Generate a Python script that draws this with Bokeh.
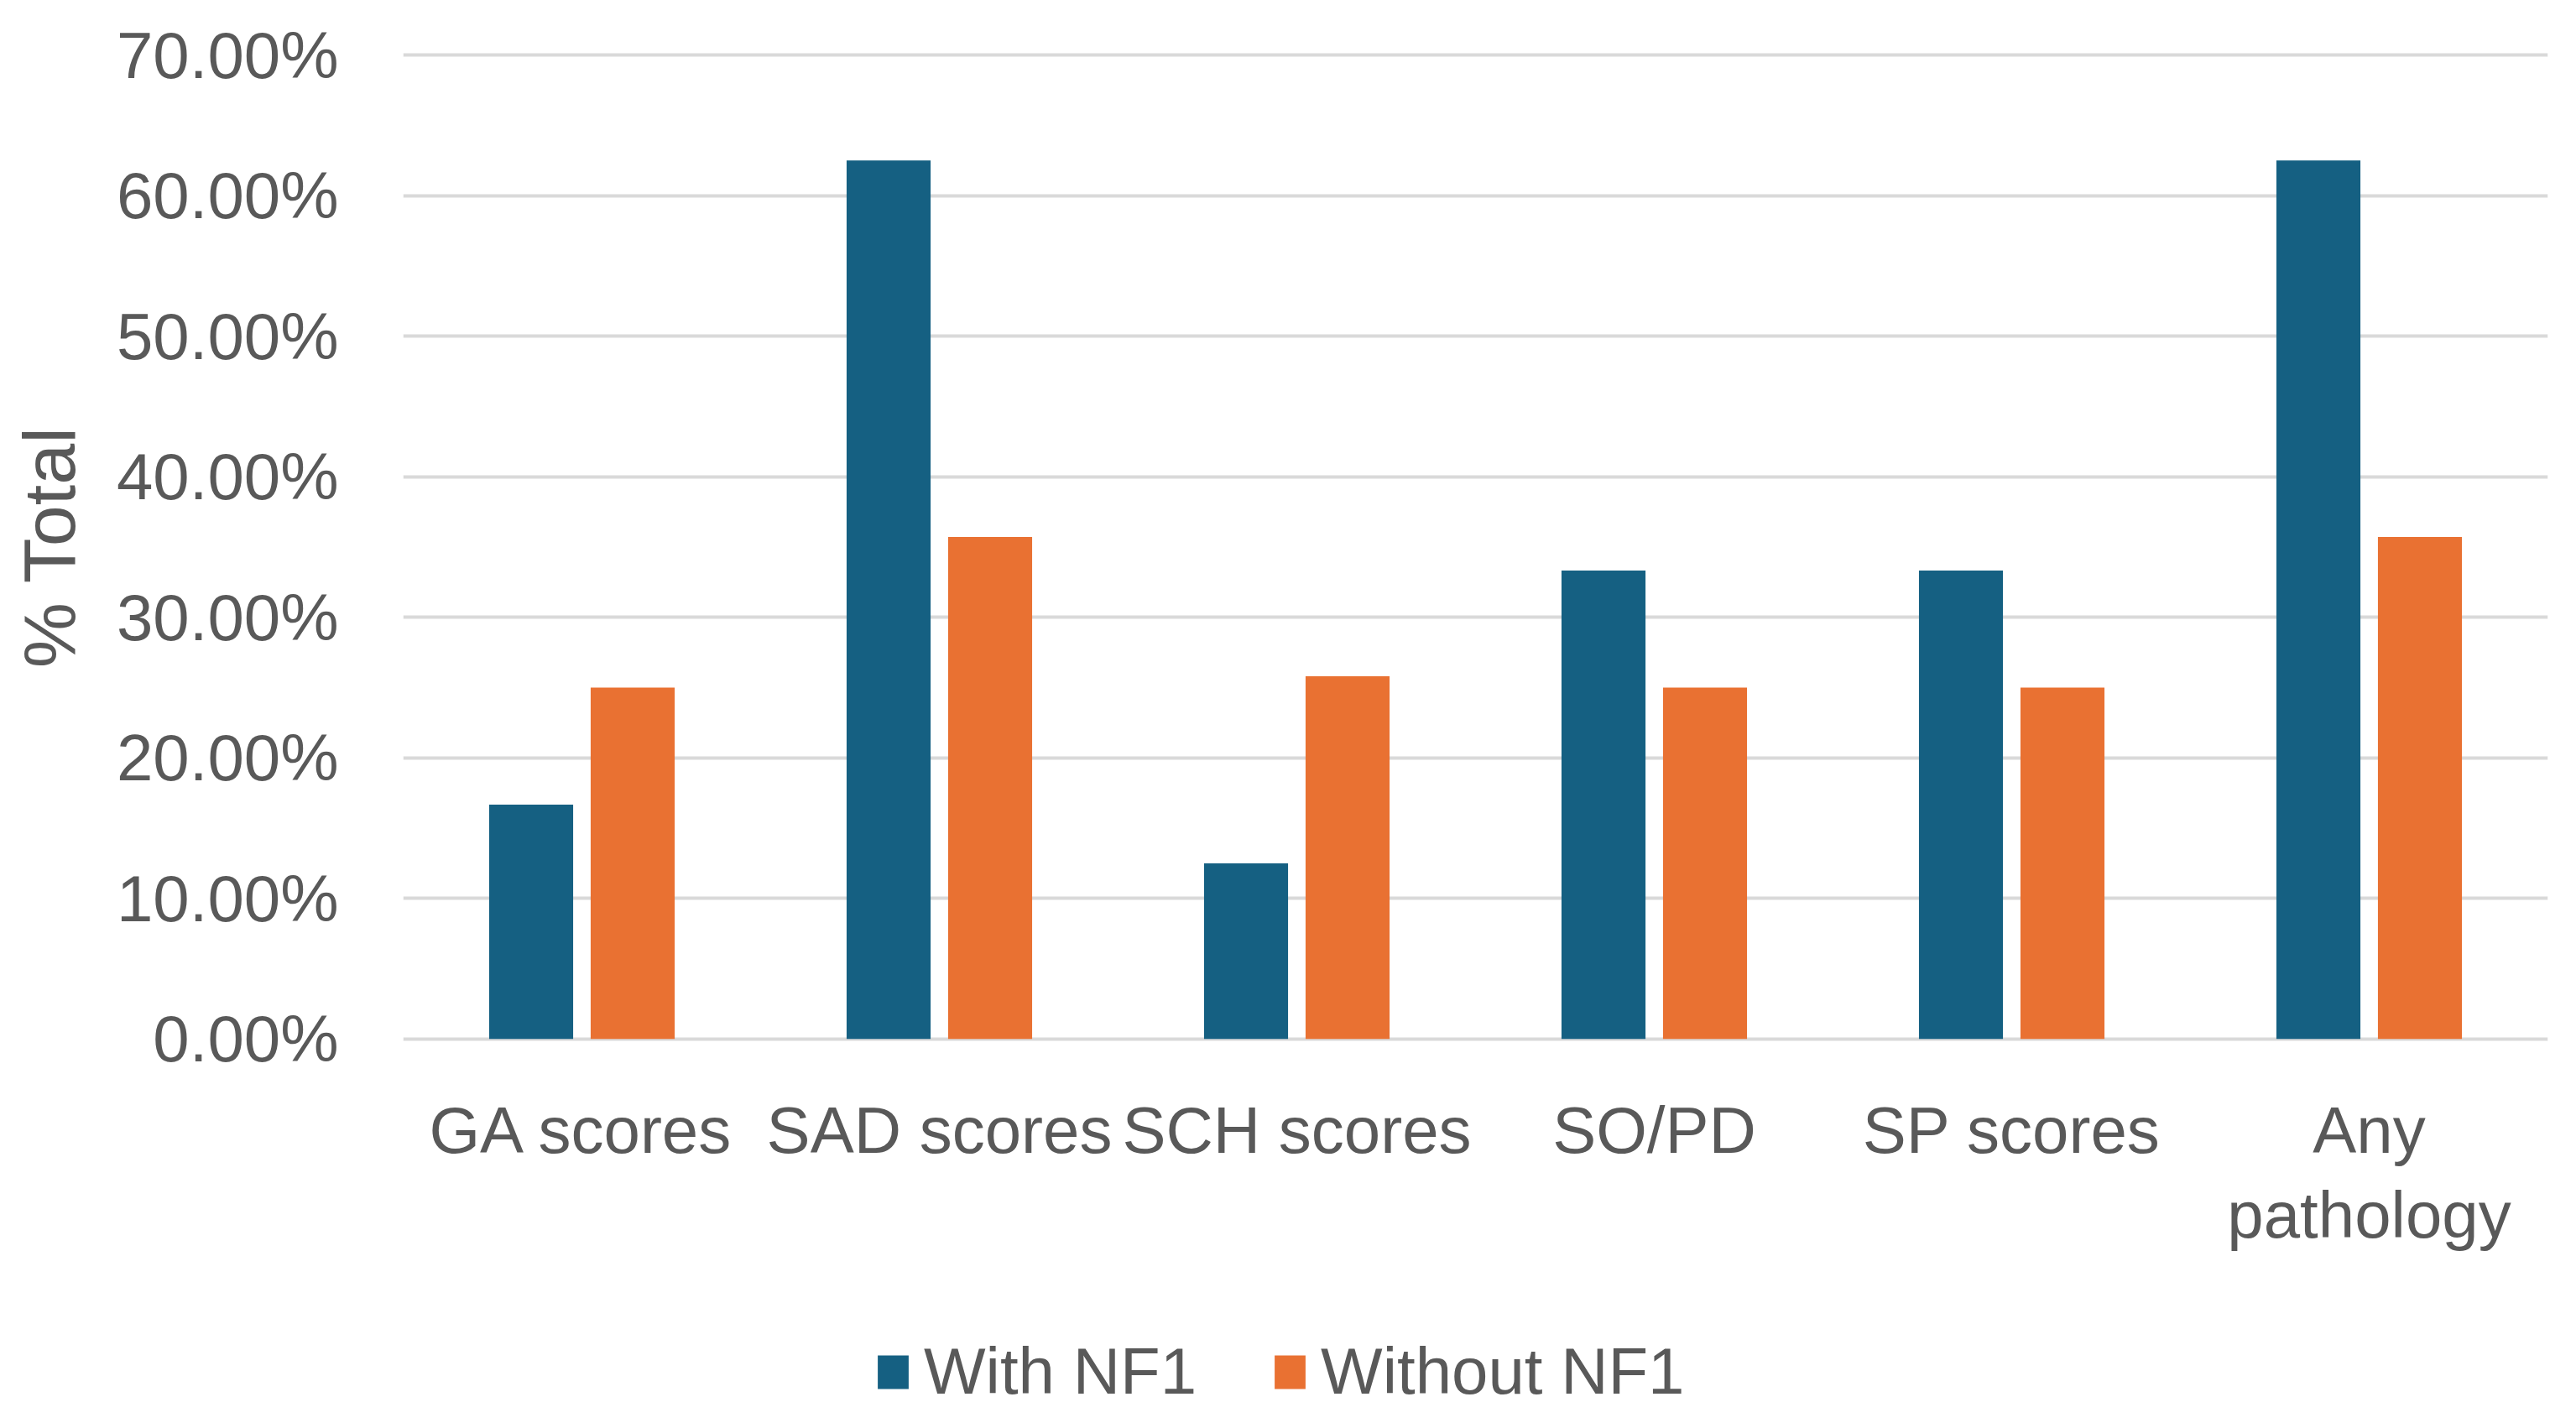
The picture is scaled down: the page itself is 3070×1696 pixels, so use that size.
from bokeh.plotting import figure
from bokeh.layouts import column
from bokeh.models import (ColumnDataSource, FactorRange, Range1d, FixedTicker,
                          NumeralTickFormatter, Legend, LegendItem)
from bokeh.core.properties import value
from bokeh.transform import dodge
from bokeh.embed import file_html
from bokeh.resources import INLINE

categories = ["GA scores", "SAD scores", "SCH scores", "SO/PD", "SP scores", "Any pathology"]
category_labels = ["GA scores", "SAD scores", "SCH scores", "SO/PD", "SP scores", "Any\npathology"]
with_nf1 = [0.1667, 0.625, 0.125, 0.3333, 0.3333, 0.625]
without_nf1 = [0.25, 0.3571, 0.2581, 0.25, 0.25, 0.3571]
series_names = ["With NF1", "Without NF1"]
y_ticks = [0.0, 0.1, 0.2, 0.3, 0.4, 0.5, 0.6, 0.7]

BLUE = "#156082"
ORANGE = "#E97132"
TEXT = "#595959"
GRID = "#D9D9D9"
FONT = "Liberation Sans"
FS = "78px"

W = 3054
source = ColumnDataSource(dict(cat=categories, a=with_nf1, b=without_nf1))
xr = FactorRange(*categories, range_padding=0)

# ---- main chart ----
p = figure(width=W, height=1286, output_backend="svg", toolbar_location=None,
           x_range=xr, y_range=Range1d(-0.0025, 0.7025), x_axis_location=None,
           min_border_left=480, min_border_right=18, min_border_top=61,
           min_border_bottom=44)
p.outline_line_color = None

r1 = p.vbar(x=dodge("cat", -0.142, range=xr), top="a", width=0.235,
            source=source, fill_color=BLUE, line_color=None)
r2 = p.vbar(x=dodge("cat", 0.142, range=xr), top="b", width=0.235,
            source=source, fill_color=ORANGE, line_color=None)

p.yaxis.ticker = FixedTicker(ticks=y_ticks)
p.yaxis.formatter = NumeralTickFormatter(format="0.00%")
p.yaxis.axis_line_color = None
p.yaxis.major_tick_line_color = None
p.yaxis.minor_tick_line_color = None
p.yaxis.major_tick_out = 0
p.yaxis.major_label_standoff = 77
p.yaxis.major_label_text_font = FONT
p.yaxis.major_label_text_font_size = FS
p.yaxis.major_label_text_color = TEXT
p.yaxis.axis_label = "% Total"
p.yaxis.axis_label_text_font = FONT
p.yaxis.axis_label_text_font_size = "88px"
p.yaxis.axis_label_text_font_style = "normal"
p.yaxis.axis_label_text_color = TEXT
p.yaxis.axis_label_standoff = 28

p.xgrid.grid_line_color = None
p.ygrid.grid_line_color = GRID
p.ygrid.grid_line_width = 4

# ---- category labels and legend strip ----
q = figure(width=W, height=394, output_backend="svg", toolbar_location=None,
           x_range=xr, y_range=Range1d(0, 394), x_axis_location=None,
           y_axis_location=None, min_border_left=480, min_border_right=18,
           min_border_top=0, min_border_bottom=0)
q.outline_line_color = None
q.grid.grid_line_color = None

lab_src = ColumnDataSource(dict(cat=categories, label=category_labels))
q.text(x="cat", y=378, text="label", source=lab_src, text_align="center",
       text_baseline="top", text_font=value(FONT), text_font_size=FS,
       text_color=TEXT, text_line_height=1.15)

# hidden renderers that only supply the legend swatches
d1 = q.vbar(x=dodge("cat", -0.142, range=xr), top="a", width=0.235,
            source=source, fill_color=BLUE, line_color=None, visible=False)
d2 = q.vbar(x=dodge("cat", 0.142, range=xr), top="b", width=0.235,
            source=source, fill_color=ORANGE, line_color=None, visible=False)
legend = Legend(items=[LegendItem(label=series_names[0], renderers=[d1]),
                       LegendItem(label=series_names[1], renderers=[d2])],
                orientation="horizontal", location=(561, 0))
legend.padding = 0
legend.margin = 0
legend.spacing = 88
legend.glyph_width = 46
legend.glyph_height = 50
legend.label_standoff = 14
legend.label_text_font = FONT
legend.label_text_font_size = FS
legend.label_text_color = TEXT
legend.border_line_color = None
legend.background_fill_alpha = 0
legend.click_policy = "none"
q.add_layout(legend, "center")

layout = column(p, q, spacing=0)
open("out.html", "w").write(file_html(layout, INLINE))
